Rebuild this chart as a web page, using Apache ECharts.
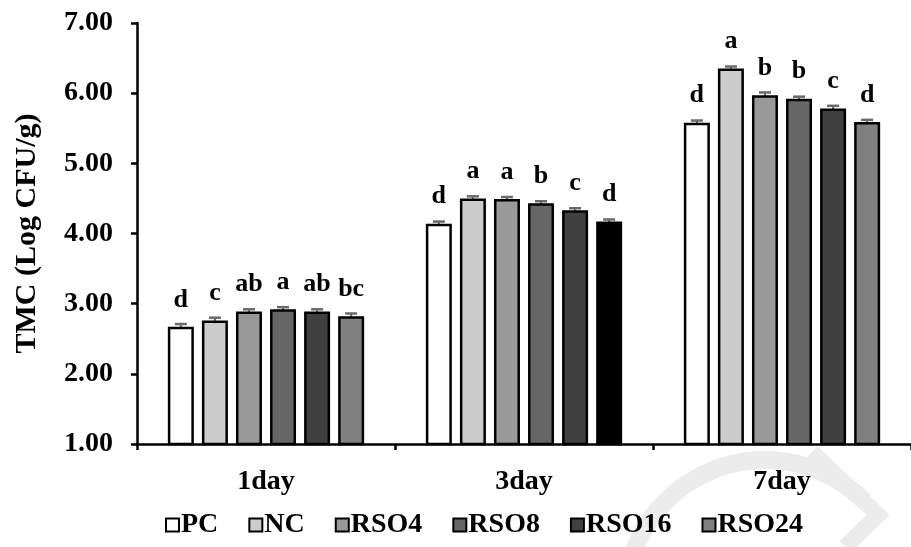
<!DOCTYPE html>
<html>
<head>
<meta charset="utf-8">
<script src="https://cdn.jsdelivr.net/npm/echarts@6/dist/echarts.min.js"></script>
<style>html,body{margin:0;padding:0;background:#fff;}#c{width:911px;height:547px;}</style>
</head>
<body>
<div id="c"></div>
<script>
const categories = ['1day', '3day', '7day'];
const seriesNames = ['PC', 'NC', 'RSO4', 'RSO8', 'RSO16', 'RSO24'];
const PC = [2.67, 4.14, 5.58];
const NC = [2.76, 4.50, 6.35];
const RSO4 = [2.89, 4.49, 5.97];
const RSO8 = [2.92, 4.43, 5.92];
const RSO16 = [2.89, 4.33, 5.78];
const RSO24 = [2.82, 4.17, 5.59];
const errPC = [0.04, 0.03, 0.03];
const errNC = [0.04, 0.03, 0.03];
const errRSO4 = [0.03, 0.03, 0.04];
const errRSO8 = [0.03, 0.03, 0.03];
const errRSO16 = [0.03, 0.03, 0.04];
const errRSO24 = [0.04, 0.03, 0.03];
const lettersPC = ['d', 'd', 'd'];
const lettersNC = ['c', 'a', 'a'];
const lettersRSO4 = ['ab', 'a', 'b'];
const lettersRSO8 = ['a', 'b', 'b'];
const lettersRSO16 = ['ab', 'c', 'c'];
const lettersRSO24 = ['bc', 'd', 'd'];
const yTicks = [1, 2, 3, 4, 5, 6, 7];

const values = [PC, NC, RSO4, RSO8, RSO16, RSO24];
const errs = [errPC, errNC, errRSO4, errRSO8, errRSO16, errRSO24];
const letters = [lettersPC, lettersNC, lettersRSO4, lettersRSO8, lettersRSO16, lettersRSO24];
const colors = ['#ffffff', '#cccccc', '#999999', '#666666', '#404040', '#808080'];
const colorOverride = { '5-1': '#000000' };

const FONT = '"Liberation Serif", "Times New Roman", serif';
const BAR_W = 26;
const BAR_GAP = 0.31;
const PITCH = BAR_W * (1 + BAR_GAP);

const series = [];
values.forEach((vals, si) => {
  series.push({
    name: seriesNames[si],
    type: 'bar',
    barWidth: BAR_W,
    barGap: (BAR_GAP * 100) + '%',
    z: 3,
    itemStyle: { color: colors[si], borderColor: '#000', borderWidth: 2.5 },
    label: {
      show: true, position: 'top', distance: 14,
      fontFamily: FONT, fontWeight: 'bold', fontSize: 26, color: '#000',
      formatter: p => letters[si][p.dataIndex]
    },
    data: vals.map((v, ci) => {
      const o = colorOverride[si + '-' + ci];
      return o ? { value: v, itemStyle: { color: o } } : v;
    })
  });
});
values.forEach((vals, si) => {
  series.push({
    type: 'custom',
    z: 2,
    silent: true,
    data: vals.map((v, ci) => [ci, v, errs[si][ci]]),
    renderItem: (params, api) => {
      const ci = api.value(0), v = api.value(1), e = api.value(2);
      const off = (si - 2.5) * PITCH;
      const top = api.coord([ci, v + e]);
      const bot = api.coord([ci, v - e]);
      const x = top[0] + off;
      return {
        type: 'group',
        children: [
          { type: 'line', shape: { x1: x, y1: bot[1], x2: x, y2: top[1] }, style: { stroke: '#6a6a6a', lineWidth: 2 } },
          { type: 'line', shape: { x1: x - 6, y1: top[1], x2: x + 6, y2: top[1] }, style: { stroke: '#6a6a6a', lineWidth: 2.5 } }
        ]
      };
    }
  });
});

const chart = echarts.init(document.getElementById('c'));
chart.setOption({
  backgroundColor: '#fff',
  animation: false,
  graphic: [
    { type: 'arc', z: -10, silent: true, shape: { cx: 765, cy: 600, r: 140, startAngle: Math.PI * 1.1, endAngle: Math.PI * 1.75 }, style: { stroke: '#ececec', lineWidth: 18, fill: null } },
    { type: 'polyline', z: -10, silent: true, shape: { points: [[812, 452], [878, 515], [845, 547]] }, style: { stroke: '#ececec', lineWidth: 16, fill: null } }
  ],
  grid: { left: 137, top: 23, width: 784, height: 421 },
  legend: {
    data: seriesNames,
    left: 160, top: 506,
    icon: 'rect',
    itemWidth: 13, itemHeight: 13, itemGap: 30,
    itemStyle: { borderColor: '#000', borderWidth: 2 },
    textStyle: { fontFamily: FONT, fontWeight: 'bold', fontSize: 28, color: '#000', padding: [0, 0, 0, -3] }
  },
  xAxis: {
    type: 'category',
    data: categories,
    axisLine: { lineStyle: { color: '#000', width: 2.5 } },
    axisTick: { show: true, length: 6, lineStyle: { color: '#000', width: 2.5 } },
    axisLabel: { fontFamily: FONT, fontWeight: 'bold', fontSize: 28, color: '#000', margin: 24 }
  },
  yAxis: {
    type: 'value',
    min: yTicks[0], max: yTicks[yTicks.length - 1], interval: 1,
    name: 'TMC (Log CFU/g)',
    nameLocation: 'middle',
    nameGap: 95,
    nameRotate: 90,
    nameTextStyle: { fontFamily: FONT, fontWeight: 'bold', fontSize: 30, color: '#000' },
    axisLine: { show: true, lineStyle: { color: '#000', width: 2.5 } },
    axisTick: { show: true, length: 6, lineStyle: { color: '#000', width: 2.5 } },
    splitLine: { show: false },
    axisLabel: { fontFamily: FONT, fontWeight: 'bold', fontSize: 28, color: '#000', margin: 24, formatter: v => v.toFixed(2) }
  },
  series: series
});
</script>
</body>
</html>
